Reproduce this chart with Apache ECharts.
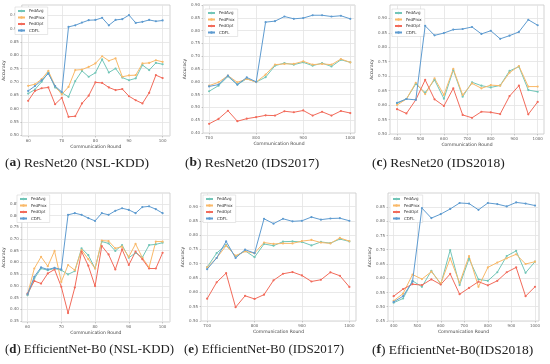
<!DOCTYPE html>
<html><head><meta charset="utf-8">
<script src="https://cdn.jsdelivr.net/npm/echarts@6/dist/echarts.min.js"></script>
<style>html,body{margin:0;padding:0;background:#fff}#c{width:550px;height:364px}</style>
</head><body><div id="c"></div>
<script>
// ---- data ----
const seriesNames = ['FedAvg', 'FedProx', 'FedOpt', 'CDFL'];
const colors = ['#72c6b8', '#f9b969', '#f26b5b', '#5e9bd0'];

const roundsA = [60,62,64,66,68,70,72,74,76,78,80,82,84,86,88,90,92,94,96,98,100];
const roundsB = [700,720,740,760,780,800,820,840,860,880,900,920,940,960,980,1000];
const roundsC = [400,440,480,520,560,600,640,680,720,760,800,840,880,920,960,1000];
const roundsD = [60,62,64,66,68,70,72,74,76,78,80,82,84,86,88,90,92,94,96,98,100];
const roundsE = [700,720,740,760,780,800,820,840,860,880,900,920,940,960,980,1000];
const roundsF = [400,440,480,520,560,600,640,680,720,760,800,840,880,920,960,1000];

// (a) ResNet20 NSL-KDD
const aFedAvg  = [0.656,0.671,0.700,0.735,0.679,0.659,0.644,0.703,0.741,0.719,0.734,0.784,0.735,0.750,0.716,0.706,0.713,0.763,0.744,0.771,0.766];
const aFedProx = [0.685,0.691,0.710,0.741,0.684,0.653,0.681,0.744,0.746,0.756,0.769,0.796,0.779,0.788,0.719,0.724,0.725,0.769,0.771,0.781,0.775];
const aFedOpt  = [0.629,0.666,0.676,0.679,0.616,0.640,0.569,0.571,0.619,0.648,0.698,0.696,0.679,0.669,0.673,0.646,0.631,0.619,0.659,0.725,0.714];
const aCDFL    = [0.666,0.684,0.706,0.731,0.684,0.662,0.906,0.912,0.922,0.931,0.932,0.940,0.912,0.932,0.935,0.950,0.921,0.925,0.932,0.927,0.930];
// (b) ResNet20 IDS2017
const bFedAvg  = [0.563,0.585,0.621,0.589,0.612,0.599,0.618,0.663,0.673,0.667,0.676,0.663,0.673,0.660,0.686,0.676];
const bFedProx = [0.585,0.598,0.624,0.598,0.611,0.599,0.628,0.667,0.670,0.670,0.680,0.667,0.670,0.667,0.689,0.676];
const bFedOpt  = [0.436,0.455,0.487,0.446,0.456,0.462,0.469,0.468,0.485,0.481,0.488,0.468,0.483,0.468,0.486,0.478];
const bCDFL    = [0.582,0.589,0.624,0.589,0.617,0.600,0.833,0.837,0.855,0.846,0.849,0.860,0.860,0.855,0.858,0.846];
// (c) ResNet20 IDS2018
const cFedAvg  = [0.606,0.621,0.673,0.643,0.687,0.622,0.721,0.629,0.679,0.667,0.661,0.668,0.718,0.733,0.652,0.646];
const cFedProx = [0.600,0.621,0.677,0.638,0.692,0.635,0.725,0.635,0.675,0.658,0.669,0.667,0.712,0.735,0.664,0.664];
const cFedOpt  = [0.586,0.571,0.618,0.687,0.620,0.597,0.658,0.566,0.556,0.577,0.575,0.569,0.631,0.667,0.568,0.611];
const cCDFL    = [0.608,0.621,0.618,0.874,0.841,0.849,0.861,0.863,0.870,0.846,0.857,0.829,0.840,0.853,0.895,0.876];
// (d) EfficientNet-B0 NSL-KDD
const dFedAvg  = [0.460,0.531,0.574,0.567,0.574,0.567,0.549,0.563,0.660,0.631,0.574,0.689,0.681,0.649,0.674,0.620,0.641,0.621,0.674,0.677,0.684];
const dFedProx = [0.464,0.574,0.624,0.584,0.649,0.517,0.589,0.567,0.653,0.614,0.574,0.693,0.691,0.660,0.667,0.624,0.679,0.620,0.579,0.689,0.689];
const dFedOpt  = [0.467,0.521,0.510,0.553,0.570,0.496,0.384,0.493,0.646,0.586,0.499,0.670,0.634,0.570,0.656,0.589,0.646,0.614,0.574,0.574,0.641];
const dCDFL    = [0.464,0.539,0.579,0.570,0.577,0.570,0.803,0.810,0.803,0.789,0.777,0.810,0.803,0.820,0.831,0.824,0.810,0.836,0.839,0.827,0.810];
// (e) EfficientNet-B0 IDS2017
const eFedAvg  = [0.688,0.737,0.766,0.726,0.745,0.723,0.769,0.763,0.777,0.778,0.776,0.764,0.776,0.772,0.786,0.778];
const eFedProx = [0.687,0.720,0.763,0.728,0.743,0.737,0.774,0.769,0.771,0.771,0.779,0.783,0.774,0.771,0.790,0.779];
const eFedOpt  = [0.578,0.635,0.667,0.548,0.588,0.577,0.592,0.642,0.665,0.671,0.659,0.638,0.644,0.670,0.658,0.619];
const eCDFL    = [0.681,0.720,0.778,0.720,0.749,0.737,0.857,0.840,0.857,0.848,0.850,0.863,0.854,0.858,0.859,0.850];
// (f) EfficientNet-B0 IDS2018
const fFedAvg  = [0.514,0.529,0.591,0.570,0.626,0.579,0.699,0.576,0.668,0.596,0.591,0.621,0.678,0.696,0.619,0.658];
const fFedProx = [0.521,0.546,0.613,0.597,0.623,0.582,0.670,0.584,0.678,0.570,0.638,0.655,0.670,0.684,0.650,0.658];
const fFedOpt  = [0.537,0.562,0.579,0.576,0.596,0.578,0.615,0.544,0.566,0.588,0.575,0.591,0.621,0.638,0.537,0.570];
const fCDFL    = [0.517,0.537,0.588,0.846,0.811,0.825,0.843,0.864,0.862,0.840,0.864,0.860,0.852,0.866,0.862,0.855];

const xTicksA = [60,70,80,90,100];
const xTicksB = [700,800,900,1000];
const xTicksC = [400,500,600,700,800,900,1000];
const yTicksA = [0.50,0.55,0.60,0.65,0.70,0.75,0.80,0.85,0.90,0.95];
const yTicksB = [0.40,0.45,0.50,0.55,0.60,0.65,0.70,0.75,0.80,0.85,0.90];
const yTicksC = [0.50,0.55,0.60,0.65,0.70,0.75,0.80,0.85,0.90];
const yTicksD = [0.35,0.40,0.45,0.50,0.55,0.60,0.65,0.70,0.75,0.80,0.85];
const yTicksE = [0.50,0.55,0.60,0.65,0.70,0.75,0.80,0.85,0.90];
const yTicksF = [0.45,0.50,0.55,0.60,0.65,0.70,0.75,0.80,0.85];

const captions = [
  ['a', 'ResNet20 (NSL-KDD)'],
  ['b', 'ResNet20 (IDS2017)'],
  ['c', 'ResNet20 (IDS2018)'],
  ['d', 'EfficientNet-B0 (NSL-KDD)'],
  ['e', 'EfficientNet-B0 (IDS2017)'],
  ['f', 'EfficientNet-B0(IDS2018)']
];

// ---- layout (styles/positions) ----
const panels = [
  {rounds: roundsA, vals: [aFedAvg,aFedProx,aFedOpt,aCDFL], xt: xTicksA, yt: yTicksA, xr:[58.1,102.2], yr:[0.497,0.988],
   grid:{left:13, top:5, width:157, height:131}, legend:{left:15, top:7}, cap:{left:5, top:156}, fs:13.5},
  {rounds: roundsB, vals: [bFedAvg,bFedProx,bFedOpt,bCDFL], xt: xTicksB, yt: yTicksB, xr:[687,1010], yr:[0.40,0.90],
   grid:{left:203, top:5, width:152, height:128}, legend:{left:205, top:9}, cap:{left:185, top:156}, fs:13.5},
  {rounds: roundsC, vals: [cFedAvg,cFedProx,cFedOpt,cCDFL], xt: xTicksC, yt: yTicksC, xr:[370,1027], yr:[0.50,0.946],
   grid:{left:390, top:5, width:154, height:129}, legend:{left:392, top:9}, cap:{left:372, top:156}, fs:13.5},
  {rounds: roundsD, vals: [dFedAvg,dFedProx,dFedOpt,dCDFL], xt: xTicksA, yt: yTicksD, xr:[58.3,102.2], yr:[0.346,0.896],
   grid:{left:15, top:193, width:155, height:129}, legend:{left:17, top:195}, cap:{left:5, top:343}, fs:12.8},
  {rounds: roundsE, vals: [eFedAvg,eFedProx,eFedOpt,eCDFL], xt: xTicksB, yt: yTicksE, xr:[687,1014], yr:[0.50,0.947],
   grid:{left:201, top:193, width:155, height:128}, legend:{left:203, top:195}, cap:{left:184, top:343}, fs:13},
  {rounds: roundsF, vals: [fFedAvg,fFedProx,fFedOpt,fCDFL], xt: xTicksC, yt: yTicksF, xr:[376,1017], yr:[0.45,0.899],
   grid:{left:388, top:193, width:151, height:128}, legend:{left:390, top:195}, cap:{left:372, top:343}, fs:13.5}
];

const grids = [], xAxes = [], yAxes = [], series = [], legends = [], titles = [];
const labelStyle = {fontSize: 4, color: '#666', fontFamily: 'DejaVu Sans'};
panels.forEach((p, i) => {
  grids.push(Object.assign({show: true, borderColor: '#c8c8c8', borderWidth: 0.8, backgroundColor: '#fff'}, p.grid));
  xAxes.push({
    type: 'value', gridIndex: i, min: p.xr[0], max: p.xr[1],
    name: 'Communication Round', nameLocation: 'middle', nameGap: 8,
    nameTextStyle: {fontSize: 4.5, color: '#444', fontFamily: 'DejaVu Sans'},
    axisLine: {show: false}, axisTick: {show: true, length: 1.5, lineStyle: {color: '#999', width: 0.5}, customValues: p.xt},
    axisLabel: Object.assign({margin: 3, customValues: p.xt, formatter: v => String(v)}, labelStyle),
    splitLine: {show: true, lineStyle: {color: '#e3e3e3', width: 0.8}}
  });
  yAxes.push({
    type: 'value', gridIndex: i, min: p.yr[0], max: p.yr[1],
    name: 'Accuracy', nameLocation: 'middle', nameGap: 12,
    nameTextStyle: {fontSize: 4.5, color: '#444', fontFamily: 'DejaVu Sans'},
    axisLine: {show: false}, axisTick: {show: true, length: 1.5, lineStyle: {color: '#999', width: 0.5}, customValues: p.yt},
    axisLabel: Object.assign({margin: 3, customValues: p.yt, formatter: v => v.toFixed(2)}, labelStyle),
    splitLine: {show: true, lineStyle: {color: '#e3e3e3', width: 0.8}}
  });
  seriesNames.forEach((n, k) => {
    series.push({
      type: 'line', name: n, xAxisIndex: i, yAxisIndex: i,
      data: p.rounds.map((r, j) => [r, p.vals[k][j]]),
      symbol: 'circle', symbolSize: 2.2, showSymbol: true,
      lineStyle: {width: 1, color: colors[k]}, itemStyle: {color: colors[k]},
      z: k === 3 ? 4 : 3, animation: false
    });
  });
  legends.push(Object.assign({
    data: seriesNames, orient: 'vertical', itemWidth: 7, itemHeight: 3, itemGap: 2.5,
    padding: [2, 3, 2, 2], borderColor: '#d6d6d6', borderWidth: 0.6, backgroundColor: '#fff',
    textStyle: {fontSize: 4, color: '#333', fontFamily: 'DejaVu Sans', padding: [0,0,0,-1]},
    selectedMode: false
  }, p.legend));
  titles.push(Object.assign({
    text: '({b|' + captions[i][0] + '}) ' + captions[i][1],
    textStyle: {fontSize: p.fs, fontWeight: 'normal', color: '#222', fontFamily: 'Liberation Serif',
      rich: {b: {fontSize: p.fs, fontWeight: 'bold', color: '#222', fontFamily: 'Liberation Serif'}}},
    padding: 0
  }, p.cap));
});

const chart = echarts.init(document.getElementById('c'), null, {renderer: 'canvas'});
chart.setOption({
  backgroundColor: '#fff', animation: false,
  title: titles, grid: grids, xAxis: xAxes, yAxis: yAxes, legend: legends, series: series
});
</script></body></html>
